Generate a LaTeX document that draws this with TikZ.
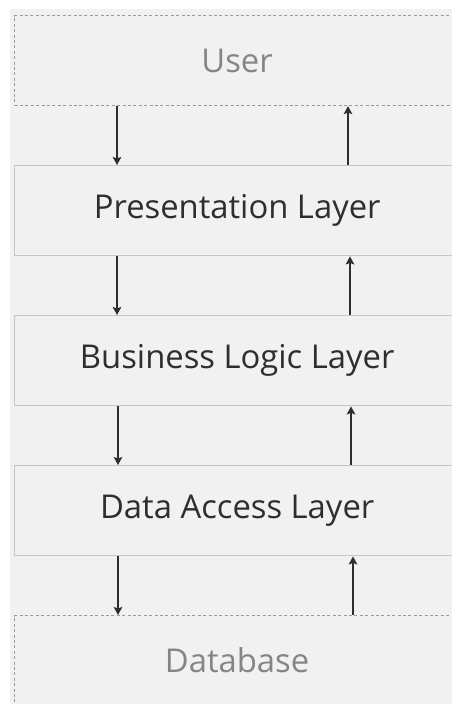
\documentclass[tikz,border=0pt]{standalone}
\usepackage{fontspec}
\setmainfont{Open Sans}
\usetikzlibrary{arrows.meta}
\definecolor{canvas}{HTML}{F1F1F1}
\definecolor{edge}{HTML}{C6C6C6}
\definecolor{dashedge}{HTML}{9A9A9A}
\definecolor{ink}{HTML}{2E2E2E}
\definecolor{mute}{HTML}{858585}
\begin{document}
\begin{tikzpicture}[x=1pt,y=-1pt,
  layer/.style={rectangle, draw=edge, fill=canvas, line width=1.4pt,
    minimum width=445pt, minimum height=90pt, inner sep=0pt, anchor=north west,
    text=ink, font=\fontsize{32.8}{39}\selectfont},
  outside/.style={layer, draw=dashedge, line width=1.1pt,
    dash pattern=on 3pt off 2.4pt, text=mute},
  flow/.style={draw=ink, line width=1.9pt,
    -{Stealth[length=8pt,width=8.5pt,inset=1.5pt]}}]
\useasboundingbox (0,0) rectangle (452,704);
\clip (0,0) rectangle (452,704);
\fill[canvas] (10,9) rectangle (452,704);

% the stack of layers
\node[outside] (user) at (14,15)  {User};
\node[layer]   (pres) at (14,165) {Presentation Layer};
\node[layer]   (biz)  at (14,315) {Business Logic Layer};
\node[layer]   (dal)  at (14,465) {Data Access Layer};
\node[outside] (db)   at (14,615) {Database};

% requests going down
\draw[flow] (user.south -| 117,0) -- (pres.north -| 117,0);
\draw[flow] (pres.south -| 117,0) -- (biz.north -| 117,0);
\draw[flow] (biz.south -| 118,0)  -- (dal.north -| 118,0);
\draw[flow] (dal.south -| 118,0)  -- (db.north -| 118,0);

% responses coming back up
\draw[flow] (pres.north -| 348,0) -- (user.south -| 348,0);
\draw[flow] (biz.north -| 350,0)  -- (pres.south -| 350,0);
\draw[flow] (dal.north -| 351,0)  -- (biz.south -| 351,0);
\draw[flow] (db.north -| 353,0)   -- (dal.south -| 353,0);
\end{tikzpicture}
\end{document}
